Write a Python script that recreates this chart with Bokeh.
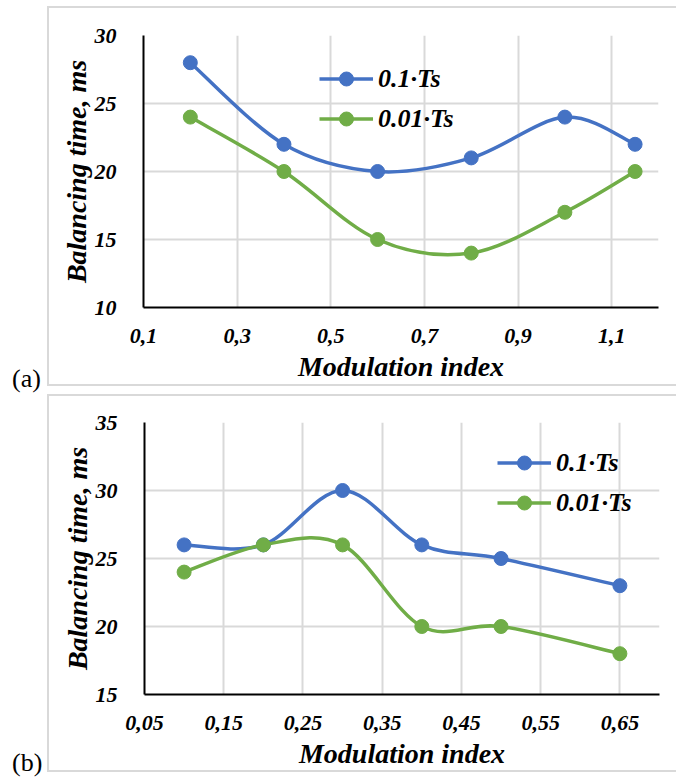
from bokeh.plotting import figure
from bokeh.layouts import column, row
from bokeh.models import (ColumnDataSource, FixedTicker, Legend, LegendItem,
                          Div)
from bokeh.embed import file_html
from bokeh.resources import INLINE

# ---------------- data ----------------
# panel (a)
xa = [0.2, 0.4, 0.6, 0.8, 1.0, 1.15]
ya_blue = [28, 22, 20, 21, 24, 22]
ya_green = [24, 20, 15, 14, 17, 20]
xa_ticks = [0.1, 0.3, 0.5, 0.7, 0.9, 1.1]
xa_labels = ["0,1", "0,3", "0,5", "0,7", "0,9", "1,1"]
ya_ticks = [10, 15, 20, 25, 30]

# panel (b)
xb = [0.1, 0.2, 0.3, 0.4, 0.5, 0.65]
yb_blue = [26, 26, 30, 26, 25, 23]
yb_green = [24, 26, 26, 20, 20, 18]
xb_ticks = [0.05, 0.15, 0.25, 0.35, 0.45, 0.55, 0.65]
xb_labels = ["0,05", "0,15", "0,25", "0,35", "0,45", "0,55", "0,65"]
yb_ticks = [15, 20, 25, 30, 35]

series_names = ["0.1\u00b7Ts", "0.01\u00b7Ts"]
BLUE = "#4472C4"
GREEN = "#70AD47"
GRID = "#D9D9D9"
FONT = "Liberation Serif"


def smooth_segments(xs, ys):
    """Bezier control points (Excel-like smoothing) for each segment."""
    n = len(xs)
    d = dict(x0=[], y0=[], x1=[], y1=[], cx0=[], cy0=[], cx1=[], cy1=[])
    for i in range(n - 1):
        a = i - 1 if i > 0 else i
        b = i + 2 if i + 2 < n else i + 1
        d["x0"].append(xs[i]); d["y0"].append(ys[i])
        d["x1"].append(xs[i + 1]); d["y1"].append(ys[i + 1])
        d["cx0"].append(xs[i] + (xs[i + 1] - xs[a]) / 6)
        d["cy0"].append(ys[i] + (ys[i + 1] - ys[a]) / 6)
        d["cx1"].append(xs[i + 1] - (xs[b] - xs[i]) / 6)
        d["cy1"].append(ys[i + 1] - (ys[b] - ys[i]) / 6)
    return ColumnDataSource(d)


def make_panel(xs, yblue, ygreen, xr, yr, xticks, xlabels, yticks,
               borders, legend_loc, top_margin):
    bl, br, bt, bb = borders
    p = figure(frame_width=513, frame_height=268, x_range=xr, y_range=yr,
               output_backend="svg", toolbar_location=None,
               min_border_left=bl, min_border_right=br,
               min_border_top=bt, min_border_bottom=bb,
               margin=(top_margin, 0, 0, 0),
               styles={"border-left": f"2px solid {GRID}",
                       "border-top": f"2px solid {GRID}",
                       "border-bottom": f"2px solid {GRID}"})
    p.outline_line_color = None
    p.background_fill_color = "white"
    p.border_fill_color = None

    # axes
    p.xaxis.ticker = FixedTicker(ticks=xticks)
    p.xaxis.major_label_overrides = dict(zip(xticks, xlabels))
    p.yaxis.ticker = FixedTicker(ticks=yticks)
    for ax in (p.xaxis, p.yaxis):
        ax.axis_line_color = "black"
        ax.axis_line_width = 2
        ax.major_tick_line_color = None
        ax.minor_tick_line_color = None
        ax.major_label_text_font = FONT
        ax.major_label_text_font_style = "bold italic"
        ax.major_label_text_font_size = "22px"
        ax.major_label_text_color = "black"
        ax.axis_label_text_font = FONT
        ax.axis_label_text_font_style = "bold italic"
        ax.axis_label_text_font_size = "28px"
        ax.axis_label_text_color = "black"
    p.xaxis.axis_label = "Modulation index"
    p.yaxis.axis_label = "Balancing time, ms"
    p.xaxis.major_label_standoff = 15
    p.yaxis.major_label_standoff = 21
    p.xaxis.axis_label_standoff = 5
    p.yaxis.axis_label_standoff = 0

    p.xgrid.ticker = FixedTicker(ticks=xticks)
    p.ygrid.ticker = FixedTicker(ticks=yticks)
    for g in (p.xgrid, p.ygrid):
        g.grid_line_color = GRID
        g.grid_line_width = 2

    items = []
    for ys, col, name in ((yblue, BLUE, series_names[0]),
                          (ygreen, GREEN, series_names[1])):
        src = smooth_segments(xs, ys)
        r1 = p.bezier(x0="x0", y0="y0", x1="x1", y1="y1", cx0="cx0",
                      cy0="cy0", cx1="cx1", cy1="cy1", source=src,
                      line_color=col, line_width=3.5)
        r2 = p.scatter(xs, ys, size=14, fill_color=col, line_color=col)
        items.append(LegendItem(label=name, renderers=[r1, r2]))

    leg = Legend(items=items, location=legend_loc, orientation="vertical",
                 glyph_width=54, glyph_height=35, spacing=5, padding=0,
                 margin=0, label_standoff=5, label_text_font=FONT,
                 label_text_font_style="bold italic",
                 label_text_font_size="26px", label_text_color="black",
                 border_line_color=None, background_fill_alpha=0)
    p.add_layout(leg)
    return p


def tag_div(text, top):
    html = (f'<span style="position:absolute; left:12px; top:{top}px; '
            f'font-family:\'{FONT}\'; font-size:26px; line-height:30px; '
            f'color:black;">{text}</span>')
    return Div(text=html, width=47, height=390, margin=0,
               styles={"position": "relative", "overflow": "visible"})


pa = make_panel(xa, ya_blue, ya_green, (0.1, 1.2), (10, 30), xa_ticks,
                xa_labels, ya_ticks, (94, 20, 27, 81), (176, 171), 6)
pb = make_panel(xb, yb_blue, yb_green, (0.05, 0.7), (15, 35), xb_ticks,
                xb_labels, yb_ticks, (95, 19, 26, 80), (353, 174), 4)

layout = column(row(tag_div("(a)", 364), pa, spacing=0),
                row(tag_div("(b)", 358), pb, spacing=0),
                spacing=0)
open("out.html", "w").write(file_html(layout, INLINE))
